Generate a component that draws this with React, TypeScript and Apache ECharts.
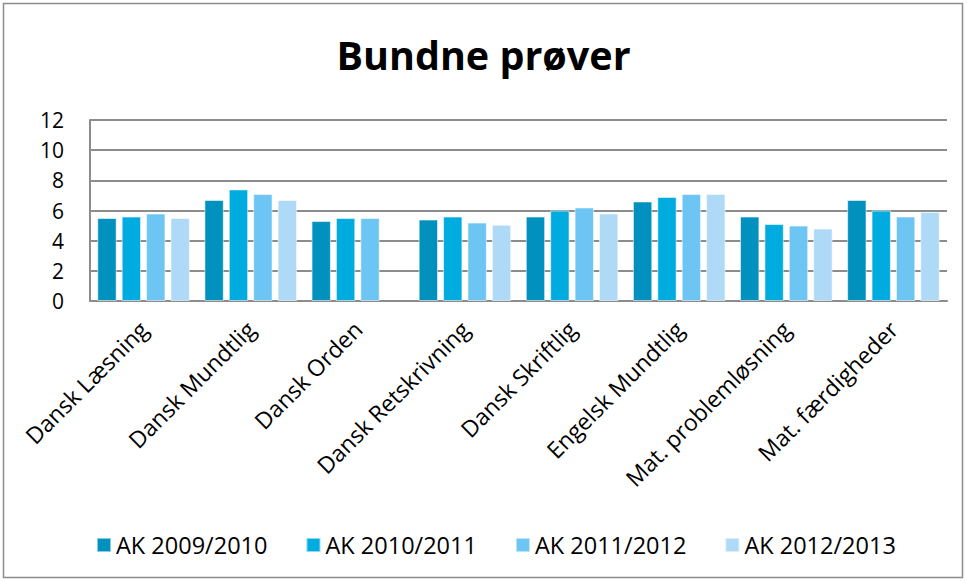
import React, { useEffect, useRef } from "react";
import * as echarts from "echarts";

const categories = [
  "Dansk Læsning",
  "Dansk Mundtlig",
  "Dansk Orden",
  "Dansk Retskrivning",
  "Dansk Skriftlig",
  "Engelsk Mundtlig",
  "Mat. problemløsning",
  "Mat. færdigheder",
];
const seriesNames = ["AK 2009/2010", "AK 2010/2011", "AK 2011/2012", "AK 2012/2013"];
const ak0910 = [5.5, 6.7, 5.3, 5.4, 5.6, 6.6, 5.6, 6.7];
const ak1011 = [5.6, 7.4, 5.5, 5.6, 6.0, 6.9, 5.1, 6.0];
const ak1112 = [5.8, 7.1, 5.5, 5.2, 6.2, 7.1, 5.0, 5.6];
const ak1213 = [5.5, 6.7, null, 5.05, 5.8, 7.1, 4.8, 5.9];
const colors = ["#0091BE", "#00ACDF", "#6CC5F2", "#AED9F7"];

const FONT = "'Open Sans', Lato, sans-serif";

export default function App() {
  const ref = useRef<HTMLDivElement>(null);
  useEffect(() => {
    if (!ref.current) return;
    const chart = echarts.init(ref.current, undefined, { renderer: "svg" });
    const values = [ak0910, ak1011, ak1112, ak1213];
    chart.setOption({
      animation: false,
      backgroundColor: "#ffffff",
      title: {
        text: "Bundne prøver",
        left: "center",
        top: 30,
        textStyle: { fontFamily: FONT, fontSize: 39.5, fontWeight: "bold", color: "#000" },
      },
      graphic: [
        {
          type: "rect",
          shape: { x: 3.5, y: 3.5, width: 959, height: 574 },
          style: { fill: "none", stroke: "#8c8c8c", lineWidth: 1.5 },
          silent: true,
        },
      ],
      legend: {
        top: 528,
        left: 91,
        itemWidth: 14,
        itemHeight: 14,
        itemGap: 38,
        icon: "rect",
        textStyle: { fontFamily: FONT, fontSize: 23.5, color: "#000" },
        data: seriesNames,
      },
      grid: { left: 90, right: 20, top: 120, bottom: 280, containLabel: false },
      xAxis: {
        type: "category",
        data: categories,
        axisLine: { lineStyle: { color: "#8c8c8c", width: 2 } },
        axisTick: { show: false },
        axisLabel: {
          rotate: 45,
          interval: 0,
          margin: 24,
          fontFamily: FONT,
          fontSize: 23,
          color: "#000",
        },
      },
      yAxis: {
        type: "value",
        min: 0,
        max: 12,
        interval: 2,
        axisLine: { show: true, lineStyle: { color: "#8c8c8c", width: 2 } },
        axisTick: { show: false },
        splitLine: { lineStyle: { color: "#8c8c8c", width: 2 } },
        axisLabel: { fontFamily: FONT, fontSize: 21, color: "#000", margin: 26 },
      },
      series: seriesNames.map((name, i) => ({
        name,
        type: "bar",
        data: values[i],
        barGap: "26%",
        barCategoryGap: "13.6%",
        itemStyle: {
          color: colors[i],
          borderColor: "rgba(255,255,255,0.55)",
          borderWidth: 1,
        },
      })),
    });
    return () => chart.dispose();
  }, []);
  return (
    <div
      ref={ref}
      style={{ position: "fixed", left: 0, top: 0, width: 967, height: 581 }}
    />
  );
}
